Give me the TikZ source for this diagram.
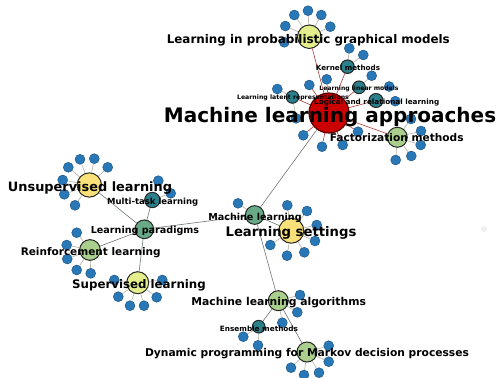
\documentclass[tikz,border=0pt]{standalone}
\usepackage{fontspec}
\setmainfont{DejaVu Sans}
\usetikzlibrary{backgrounds}
\definecolor{cred}{RGB}{204,0,0}
\definecolor{credb}{RGB}{90,0,0}
\definecolor{cyel}{RGB}{250,224,120}
\definecolor{cyg}{RGB}{228,238,140}
\definecolor{cgreen}{RGB}{170,206,140}
\definecolor{ctg}{RGB}{104,170,136}
\definecolor{cdt}{RGB}{44,128,140}
\definecolor{cleaf}{RGB}{40,120,184}
\definecolor{credge}{RGB}{175,60,60}
\definecolor{cgedge}{RGB}{110,118,118}
\definecolor{cledge}{RGB}{180,177,162}
\tikzset{
  hub/.style={circle, draw=black!85, line width=1pt, inner sep=0pt, minimum size=#1},
  leaf/.style={circle, fill=cleaf, draw=cleaf!65!black, line width=0.4pt, inner sep=0pt, minimum size=10pt},
  lbl/.style={font=\bfseries\fontsize{#1}{#1}\selectfont, inner sep=0pt, text=black},
  redge/.style={draw=credge, line width=0.6pt},
  gedge/.style={draw=cgedge, line width=0.6pt},
  ledge/.style={draw=cledge, line width=0.6pt}
}
\newcommand\leafset[3]{%
  \foreach \p [count=\i] in {#3} {
    \node[leaf] (#1-\i) at \p {};
    \begin{pgfonlayer}{background}\draw[#2] (#1) -- (#1-\i);\end{pgfonlayer}
  }}
\begin{document}
\begin{tikzpicture}[x=1pt,y=-1pt]
\useasboundingbox (0,0) rectangle (499,378);
% hubs
\node[hub=40pt, fill=cred, draw=credb, line width=1.2pt] (main) at (329,113) {};
\node[hub=23.5pt, fill=cyg] (prob) at (309.3,36.7) {};
\node[hub=13.5pt, fill=cdt] (kern) at (347.5,66.7) {};
\node[hub=12.7pt, fill=cdt] (lin) at (359,87.3) {};
\node[hub=14pt, fill=cdt] (logi) at (376,100.5) {};
\node[hub=12.5pt, fill=cdt] (lat) at (292.5,97) {};
\node[hub=20pt, fill=cgreen] (fact) at (397.3,137.3) {};
\node[hub=18.7pt, fill=ctg] (ml) at (254.7,215) {};
\node[hub=25pt, fill=cyel] (set) at (291.3,230.7) {};
\node[hub=18.7pt, fill=ctg] (para) at (144.3,229.3) {};
\node[hub=24.3pt, fill=cyel] (unsup) at (89.3,185) {};
\node[hub=15.3pt, fill=cdt] (multi) at (152.3,200) {};
\node[hub=20.7pt, fill=cgreen] (reinf) at (90,250) {};
\node[hub=22pt, fill=cyg] (sup) at (137.7,282.7) {};
\node[hub=20pt, fill=cgreen] (algo) at (278.3,300.7) {};
\node[hub=12.7pt, fill=cdt] (ens) at (258.7,326.7) {};
\node[hub=20pt, fill=cgreen] (dyn) at (307,352) {};
\node[circle, fill=black!6, inner sep=0pt, minimum size=6pt] (faint) at (484,229) {};
% hub-to-hub edges
\begin{pgfonlayer}{background}
\draw[redge] (main) -- (prob);
\draw[redge] (main) -- (kern);
\draw[redge] (main) -- (lin);
\draw[redge] (main) -- (logi);
\draw[redge] (main) -- (lat);
\draw[redge] (main) -- (fact);
\draw[gedge] (main) -- (ml);
\draw[gedge] (ml) -- (set);
\draw[gedge] (ml) -- (para);
\draw[gedge] (ml) -- (algo);
\draw[gedge] (para) -- (unsup);
\draw[gedge] (para) -- (multi);
\draw[gedge] (para) -- (reinf);
\draw[gedge] (para) -- (sup);
\draw[gedge] (algo) -- (ens);
\draw[gedge] (algo) -- (dyn);
\end{pgfonlayer}
% leaves
\leafset{main}{redge}{(309.3,85),(326.7,79.3),(303.3,135.3),(322,146.7),(342.7,145),(358,131.7)}
\leafset{prob}{ledge}{(294.3,15),(308,10.7),(321.3,15),(330.3,26.7),(285.3,26),(284.3,42.3)}
\leafset{kern}{ledge}{(349.3,48.3),(363.3,55)}
\leafset{lin}{ledge}{(371.7,75.7),(389.2,86.5)}
\leafset{logi}{ledge}{(395.3,101.2)}
\leafset{lat}{ledge}{(277.3,89),(296,118.3)}
\leafset{fact}{ledge}{(411,119),(421,131),(420.7,145),(411.3,156),(395.7,160)}
\leafset{ml}{ledge}{(238,203.3)}
\leafset{set}{ledge}{(287.3,205.3),(307,211),(316.7,225),(315,241),(304.3,252.3),(287,255.7),(270.3,245)}
\leafset{unsup}{ledge}{(68.3,167.3),(80,159.3),(94.3,158.7),(107.7,167.3),(62.7,180),(64.3,194.3),(75,205.3)}
\leafset{multi}{ledge}{(158.3,180.7),(170.7,193.3)}
\leafset{reinf}{ledge}{(76.7,232.7),(66.7,245),(67.3,259),(76.7,270),(90.7,273.3)}
\leafset{sup}{ledge}{(114.3,280),(118.3,296.7),(130,305.7),(144,305.7),(156.7,297.3),(162.3,280)}
\leafset{algo}{ledge}{(300,295),(297.3,312.3),(282.3,322.7)}
\leafset{ens}{ledge}{(243.3,336.7),(258,345.3)}
\leafset{dyn}{ledge}{(328.7,345.7),(328.7,361.7),(319,372.7),(304,375),(291,367.7)}
% labels
\node[lbl=20pt] (tmain) at (330,117) {Machine learning approaches};
\node[lbl=11.9pt] (tprob) at (308.3,40) {Learning in probabilistic graphical models};
\node[lbl=7.2pt] (tkern) at (348,67.7) {Kernel methods};
\node[lbl=6.1pt] (tlin) at (359,88.7) {Learning linear models};
\node[lbl=7.25pt] (tlogi) at (376.7,102.7) {Logical and relational learning};
\node[lbl=6.2pt] (tlat) at (293,98.3) {Learning latent representations};
\node[lbl=10.6pt] (tfact) at (396.7,137.7) {Factorization methods};
\node[lbl=12.9pt] (tunsup) at (90,187.7) {Unsupervised learning};
\node[lbl=8.5pt] (tmulti) at (152.7,201.7) {Multi-task learning};
\node[lbl=9.6pt] (tpara) at (145,231) {Learning paradigms};
\node[lbl=10.5pt] (treinf) at (90.7,252.7) {Reinforcement learning};
\node[lbl=11.8pt] (tsup) at (139,285) {Supervised learning};
\node[lbl=9.6pt] (tml) at (255,217.7) {Machine learning};
\node[lbl=13.2pt] (tset) at (291,233.3) {Learning settings};
\node[lbl=10.8pt] (talgo) at (278.7,303) {Machine learning algorithms};
\node[lbl=7.3pt] (tens) at (259,328.3) {Ensemble methods};
\node[lbl=10.7pt] (tdyn) at (307,353.7) {Dynamic programming for Markov decision processes};
\end{tikzpicture}
\end{document}
